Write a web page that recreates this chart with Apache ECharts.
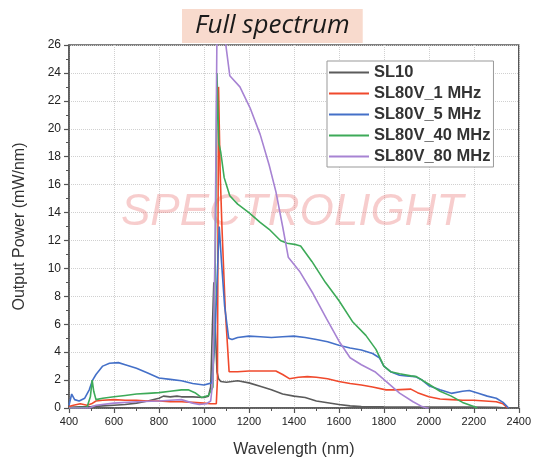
<!DOCTYPE html>
<html>
<head>
<meta charset="utf-8">
<script src="https://cdn.jsdelivr.net/npm/echarts@6/dist/echarts.min.js"></script>
<style>
html,body{margin:0;padding:0;background:#fff;}
#chart{width:534px;height:463px;}
</style>
</head>
<body>
<div id="chart"></div>
<script>
// ---- Data ----
const seriesNames = ['SL10', 'SL80V_1 MHz', 'SL80V_5 MHz', 'SL80V_40 MHz', 'SL80V_80 MHz'];

const sl10Wavelength = [400,450,500,550,600,650,700,750,800,820,850,880,900,950,1000,1020,1030,1038,1044,1050,1058,1065,1075,1100,1150,1200,1250,1300,1350,1400,1450,1500,1550,1600,1650,1700,1800,1900,2000,2100,2200,2300,2350];
const sl10Power = [0.05,0.08,0.1,0.15,0.2,0.25,0.35,0.5,0.7,0.85,0.8,0.85,0.8,0.8,0.75,0.85,1.5,6,9,6,2.6,2.1,1.9,1.85,1.95,1.8,1.55,1.3,1.0,0.85,0.75,0.5,0.38,0.25,0.15,0.1,0.08,0.07,0.07,0.07,0.07,0.05,0];

const sl1Wavelength = [400,420,450,480,500,520,550,600,650,700,750,800,850,900,950,1000,1030,1055,1060,1065,1072,1080,1095,1112,1150,1200,1250,1320,1350,1380,1420,1460,1500,1550,1600,1650,1700,1750,1810,1850,1920,1950,2000,2050,2100,2150,2200,2250,2300,2330,2350];
const sl1Power = [0.1,0.2,0.3,0.2,0.3,0.5,0.55,0.6,0.55,0.55,0.5,0.5,0.45,0.45,0.4,0.35,0.3,0.3,2,23,17,13,7,2.6,2.6,2.65,2.65,2.65,2.4,2.1,2.2,2.25,2.2,2.1,1.9,1.75,1.65,1.5,1.3,1.3,1.35,1.1,0.8,0.65,0.6,0.55,0.55,0.5,0.45,0.3,0];

const sl5Wavelength = [400,412,425,445,470,490,505,520,550,580,620,650,700,750,800,850,900,950,1000,1035,1048,1058,1068,1078,1092,1110,1125,1150,1200,1250,1300,1350,1400,1450,1500,1550,1600,1650,1700,1750,1780,1800,1830,1870,1900,1940,1970,2000,2050,2100,2150,2180,2220,2260,2300,2330,2355];
const sl5Power = [0.2,1.0,0.6,0.5,0.7,1.3,2.0,2.4,3.0,3.2,3.25,3.1,2.85,2.5,2.15,2.05,1.95,1.75,1.65,1.8,4.5,9,13,10.5,7.3,5.0,4.9,5.05,5.15,5.1,5.05,5.1,5.15,5.05,4.9,4.75,4.5,4.3,4.15,3.9,3.6,3.0,2.6,2.35,2.3,2.25,2.0,1.6,1.3,1.05,1.2,1.25,1.05,0.85,0.7,0.4,0];

const sl40Wavelength = [400,480,495,503,510,520,550,600,650,700,750,800,850,900,930,960,990,1020,1040,1050,1058,1066,1075,1090,1115,1150,1200,1250,1290,1340,1370,1410,1430,1480,1540,1600,1660,1720,1765,1800,1830,1870,1920,1945,2000,2050,2100,2150,2200,2215];
const sl40Power = [0,0.05,0.8,2.0,1.2,0.6,0.7,0.8,0.9,1.0,1.05,1.1,1.2,1.3,1.3,1.1,0.75,0.9,1.5,10,24,19,18.3,16.5,15.2,14.6,14.0,13.3,12.8,12.0,11.8,11.7,11.6,10.5,9.0,7.7,6.2,5.2,4.2,3.0,2.6,2.45,2.3,2.25,1.7,1.2,0.85,0.4,0.1,0];

const sl80Wavelength = [400,490,520,600,700,800,850,900,950,980,1010,1030,1040,1050,1058,1065,1080,1095,1115,1160,1205,1250,1290,1320,1350,1375,1425,1485,1545,1600,1650,1700,1760,1810,1870,1930,1970,1990,2000];
const sl80Power = [0,0,0.2,0.35,0.45,0.5,0.55,0.6,0.35,0.25,0.3,0.5,2,12,27,30,30,26.3,23.8,23.0,21.5,19.6,17.4,15.5,13.0,10.8,9.8,8.2,6.4,4.8,3.6,3.1,2.6,1.9,1.07,0.45,0.1,0,0];

const xTicks = { min: 400, max: 2400, interval: 200 };
const yTicks = { min: 0, max: 26, interval: 2 };

// ---- Chart ----
const colors = ['#5b5b5b', '#f0492c', '#4470c8', '#3daa58', '#a783d3'];
const xs = [sl10Wavelength, sl1Wavelength, sl5Wavelength, sl40Wavelength, sl80Wavelength];
const ys = [sl10Power, sl1Power, sl5Power, sl40Power, sl80Power];

function pairs(x, y) { return x.map((v, i) => [v, y[i]]); }

const chart = echarts.init(document.getElementById('chart'), null, { renderer: 'canvas' });
const font = 'Liberation Sans, Arial, sans-serif';

chart.setOption({
  animation: false,
  backgroundColor: '#fff',
  title: {
    text: 'Full spectrum',
    left: 182,
    top: 9,
    padding: [3, 13, 3, 13],
    backgroundColor: '#f8dacd',
    textStyle: {
      fontFamily: 'Open Sans',
      fontStyle: 'italic',
      fontWeight: 'normal',
      fontSize: 26,
      lineHeight: 28,
      color: '#1a1a1a'
    }
  },
  graphic: [{
    type: 'text',
    left: 121,
    top: 191,
    z: 1,
    silent: true,
    style: {
      text: 'SPECTROLIGHT',
      font: 'italic 44px "Liberation Sans", Arial, sans-serif',
      fill: 'rgba(230,90,90,0.30)'
    }
  }],
  legend: {
    left: 327,
    top: 61,
    orient: 'vertical',
    backgroundColor: '#fff',
    borderColor: '#999',
    borderWidth: 1,
    padding: [3, 3, 2, 2],
    itemGap: 4,
    itemWidth: 40,
    itemHeight: 2,
    icon: 'rect',
    textStyle: { fontFamily: font, fontSize: 16.5, fontWeight: 'bold', color: '#333', lineHeight: 16 },
    data: seriesNames
  },
  grid: {
    left: 69, right: 14, top: 45, bottom: 53,
    show: true, borderColor: '#555', borderWidth: 1.5, backgroundColor: 'transparent'
  },
  xAxis: {
    type: 'value',
    min: xTicks.min, max: xTicks.max, interval: xTicks.interval,
    name: 'Wavelength (nm)',
    nameLocation: 'middle',
    nameGap: 34,
    nameTextStyle: { fontFamily: font, fontSize: 16, color: '#333' },
    axisLine: { show: true, lineStyle: { color: '#555', width: 1.5 } },
    axisTick: { show: true, inside: false, length: 5, lineStyle: { color: '#555', width: 1.2 } },
    minorTick: { show: true, splitNumber: 2, length: 3, lineStyle: { color: '#555', width: 1 } },
    axisLabel: { fontFamily: font, fontSize: 11, color: '#222', margin: 8, formatter: v => String(v) },
    splitLine: { show: true, lineStyle: { color: '#d0d0d0', type: 'dotted', width: 1 } }
  },
  yAxis: {
    type: 'value',
    min: yTicks.min, max: yTicks.max, interval: yTicks.interval,
    name: 'Output Power (mW/nm)',
    nameLocation: 'middle',
    nameGap: 41,
    nameTextStyle: { fontFamily: font, fontSize: 16, color: '#333' },
    axisLine: { show: true, lineStyle: { color: '#555', width: 1.5 } },
    axisTick: { show: true, inside: false, length: 5, lineStyle: { color: '#555', width: 1.2 } },
    minorTick: { show: true, splitNumber: 2, length: 3, lineStyle: { color: '#555', width: 1 } },
    axisLabel: { fontFamily: font, fontSize: 12, color: '#222', margin: 8, formatter: v => String(v) },
    splitLine: { show: true, lineStyle: { color: '#d0d0d0', type: 'dotted', width: 1 } }
  },
  series: seriesNames.map((name, i) => ({
    name: name,
    type: 'line',
    data: pairs(xs[i], ys[i]),
    showSymbol: false,
    symbol: 'none',
    clip: true,
    z: 3 + i,
    color: colors[i],
    lineStyle: { color: colors[i], width: 1.6 }
  }))
});
</script>
</body>
</html>
